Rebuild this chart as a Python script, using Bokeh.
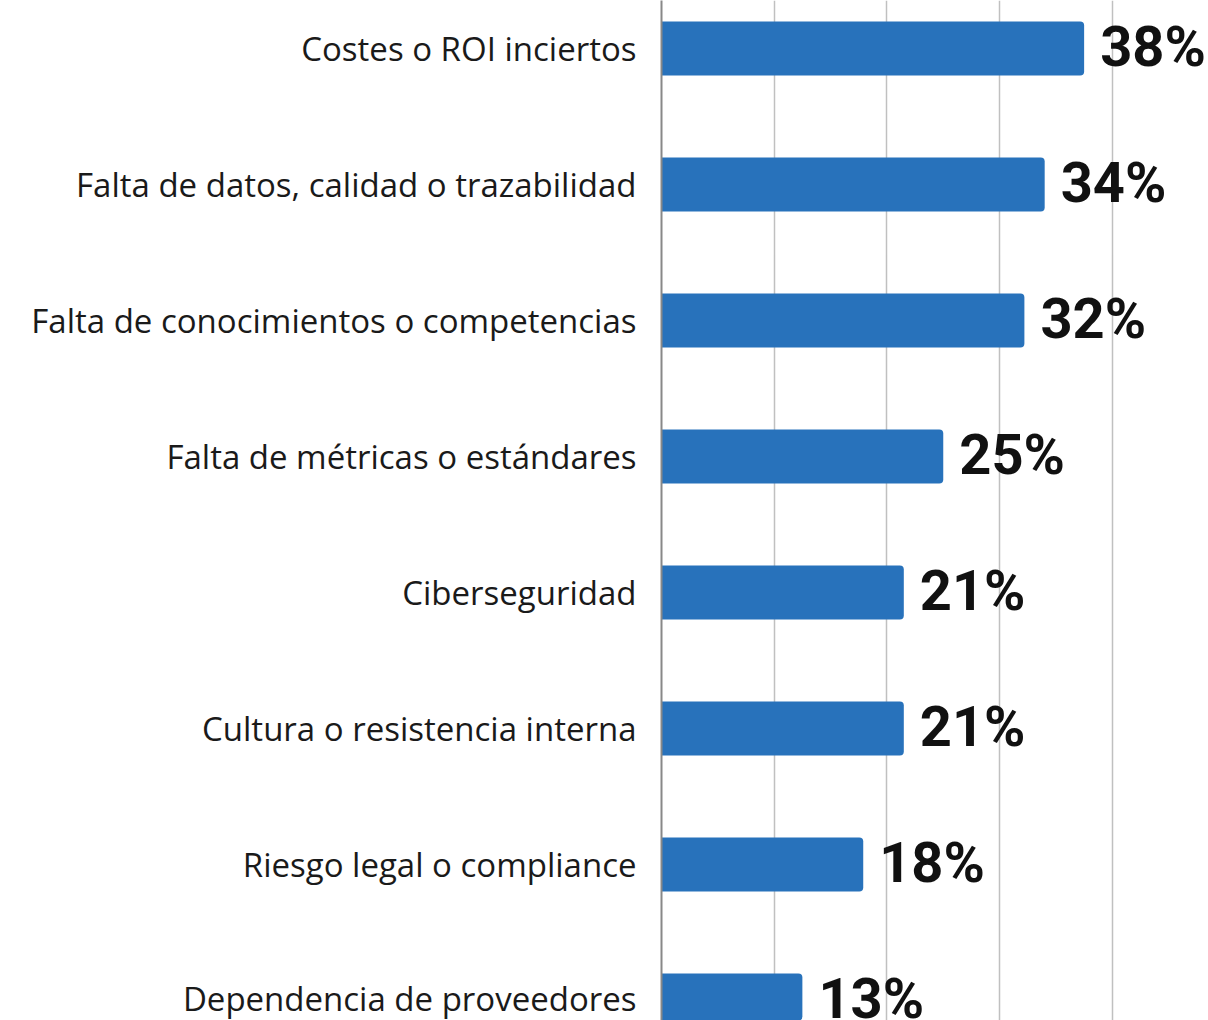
from bokeh.plotting import figure
from bokeh.models import Range1d, FixedTicker, ColumnDataSource
from bokeh.core.properties import value
from bokeh.embed import file_html
from bokeh.resources import INLINE

categories = [
    "Costes o ROI inciertos",
    "Falta de datos, calidad o trazabilidad",
    "Falta de conocimientos o competencias",
    "Falta de métricas o estándares",
    "Ciberseguridad",
    "Cultura o resistencia interna",
    "Riesgo legal o compliance",
    "Dependencia de proveedores",
]
values = [37.5, 34.0, 32.2, 25.0, 21.5, 21.5, 17.9, 12.5]
value_labels = ["38%", "34%", "32%", "25%", "21%", "21%", "18%", "13%"]
grid_ticks = [10, 20, 30, 40]

pos = list(range(len(categories)))
src = ColumnDataSource(dict(y=pos, v=values, lab=value_labels))

W, H = 1208, 1020
left = 661
slot = 136.0
top = -48 / slot
bottom = top + H / slot
x_end = (W - left) / 11.27

p = figure(width=W, height=H, output_backend="svg", toolbar_location=None,
           x_range=Range1d(0, x_end), y_range=Range1d(bottom, top),
           min_border_left=left, min_border_right=0, min_border_top=0, min_border_bottom=0)
p.outline_line_color = None
p.background_fill_color = "white"
p.border_fill_color = "white"

p.xaxis.visible = False
p.xgrid.ticker = FixedTicker(ticks=grid_ticks)
p.xgrid.grid_line_color = "#c0c0c0"
p.xgrid.grid_line_width = 1.5
p.ygrid.grid_line_color = None

p.hbar(y="y", left=0, right="v", height=54 / slot, source=src,
       fill_color="#2872bb", line_color=None, border_radius=(0, 4, 4, 0))

p.text(x="v", y="y", text="lab", source=src, x_offset=16, y_offset=-2,
       text_font=value("Roboto"), text_font_style="bold",
       text_font_size="56px", text_baseline="middle", text_align="left",
       text_color="#111111")

ya = p.yaxis[0]
ya.ticker = FixedTicker(ticks=pos)
ya.major_label_overrides = {i: c for i, c in enumerate(categories)}
ya.major_label_text_font = "Open Sans"
ya.major_label_text_font_size = "33px"
ya.major_label_text_color = "#1a1a1a"
ya.major_label_standoff = 19
ya.major_tick_line_color = None
ya.minor_tick_line_color = None
ya.axis_line_color = "#888888"
ya.axis_line_width = 2

open("out.html", "w").write(file_html(p, INLINE))
